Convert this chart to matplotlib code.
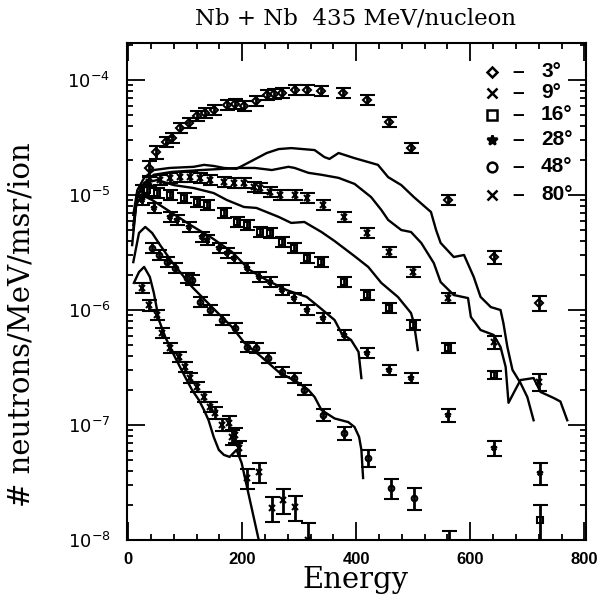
import numpy as np
import matplotlib.pyplot as plt
from matplotlib.ticker import MultipleLocator, LogLocator, NullFormatter

# measured points (energy MeV, neutrons/MeV/msr/ion, relative error)
e3 = [37, 49, 66, 77, 91, 107, 121, 135, 150, 173, 187, 204, 225, 243, 255, 269, 292, 313, 339, 377, 418, 458, 496, 561, 641, 720]
y3 = [1.72e-5, 2.36e-5, 2.89e-5, 3.13e-5, 3.83e-5, 4.23e-5, 4.87e-5, 5.17e-5, 5.48e-5, 6.06e-5, 6.18e-5, 5.94e-5, 6.57e-5,
      7.41e-5, 7.56e-5, 7.71e-5, 8.18e-5, 8.18e-5, 8.02e-5, 7.71e-5, 6.70e-5, 4.31e-5, 2.56e-5, 9.05e-6, 2.89e-6, 1.15e-6]
r3 = [0.15, 0.12, 0.1, 0.1, 0.1, 0.1, 0.1, 0.1, 0.1, 0.1, 0.1, 0.1, 0.1, 0.1, 0.1, 0.1, 0.1, 0.1, 0.1, 0.1, 0.1, 0.1, 0.1, 0.1, 0.13, 0.15]

e9 = [24, 37, 56, 73, 91, 108, 126, 143, 168, 185, 203, 220, 231, 248, 266, 292, 313, 342, 379, 418, 458, 500, 561, 641, 720]
y9 = [1.10e-5, 1.30e-5, 1.35e-5, 1.41e-5, 1.43e-5, 1.43e-5, 1.41e-5, 1.35e-5, 1.30e-5, 1.27e-5, 1.27e-5, 1.17e-5, 1.15e-5,
      1.06e-5, 1.00e-5, 1.00e-5, 9.42e-6, 8.19e-6, 6.45e-6, 4.68e-6, 3.20e-6, 2.14e-6, 1.27e-6, 5.27e-7, 2.36e-7]
r9 = [0.12, 0.1, 0.1, 0.1, 0.1, 0.1, 0.1, 0.1, 0.1, 0.1, 0.1, 0.1, 0.1, 0.1, 0.1, 0.1, 0.1, 0.1, 0.1, 0.1, 0.1, 0.1, 0.1, 0.13, 0.17]

e16 = [33, 51, 73, 98, 121, 138, 168, 190, 208, 231, 248, 269, 290, 313, 339, 379, 418, 458, 500, 561, 641, 723]
y16 = [1.10e-5, 1.04e-5, 1.00e-5, 9.42e-6, 8.70e-6, 8.19e-6, 6.98e-6, 5.83e-6, 5.49e-6, 4.77e-6, 4.68e-6, 3.90e-6, 3.46e-6,
       2.83e-6, 2.61e-6, 1.75e-6, 1.35e-6, 1.04e-6, 7.41e-7, 4.68e-7, 2.72e-7, 1.49e-8]
r16 = [0.1, 0.1, 0.1, 0.1, 0.1, 0.1, 0.1, 0.1, 0.1, 0.1, 0.1, 0.1, 0.1, 0.1, 0.1, 0.1, 0.1, 0.1, 0.1, 0.1, 0.08, 0.35]

e28 = [24, 45, 73, 86, 107, 129, 138, 159, 173, 185, 208, 229, 248, 269, 290, 313, 342, 379, 418, 458, 496, 561, 641, 723]
y28 = [9.05e-6, 7.72e-6, 6.45e-6, 6.07e-6, 5.28e-6, 4.32e-6, 4.06e-6, 3.46e-6, 3.14e-6, 2.83e-6, 2.32e-6, 1.94e-6, 1.75e-6,
       1.49e-6, 1.27e-6, 1.00e-6, 8.53e-7, 6.07e-7, 4.23e-7, 3.01e-7, 2.56e-7, 1.22e-7, 6.32e-8, 3.83e-8]
r28 = [0.1, 0.1, 0.1, 0.1, 0.1, 0.1, 0.1, 0.1, 0.1, 0.1, 0.1, 0.1, 0.1, 0.1, 0.1, 0.1, 0.1, 0.1, 0.1, 0.1, 0.1, 0.13, 0.15, 0.22]

e48 = [42, 54, 68, 82, 103, 112, 126, 143, 164, 187, 208, 225, 246, 269, 290, 309, 342, 379, 421, 461, 501, 562]
y48 = [3.46e-6, 3.01e-6, 2.61e-6, 2.32e-6, 1.90e-6, 1.82e-6, 1.17e-6, 1.00e-6, 8.18e-7, 6.98e-7, 4.77e-7, 4.68e-7, 3.83e-7,
       2.89e-7, 2.56e-7, 2.02e-7, 1.22e-7, 8.53e-8, 5.17e-8, 2.83e-8, 2.32e-8, 9.0e-9]
r48 = [0.1, 0.1, 0.1, 0.1, 0.1, 0.1, 0.1, 0.1, 0.1, 0.1, 0.1, 0.1, 0.1, 0.1, 0.1, 0.1, 0.12, 0.13, 0.17, 0.2, 0.22, 0.33]

e80 = [24, 37, 51, 59, 73, 89, 100, 108, 121, 133, 143, 152, 164, 176, 182, 187, 194, 208, 229, 252, 272, 292, 316]
y80 = [1.56e-6, 1.10e-6, 9.05e-7, 6.31e-7, 4.68e-7, 3.90e-7, 3.20e-7, 2.56e-7, 2.14e-7, 1.75e-7, 1.44e-7, 1.27e-7, 1.00e-7,
       1.04e-7, 7.87e-8, 8.19e-8, 6.32e-8, 3.46e-8, 3.90e-8, 1.90e-8, 2.23e-8, 1.94e-8, 1.0e-8]
r80 = [0.1, 0.1, 0.1, 0.1, 0.1, 0.1, 0.1, 0.1, 0.1, 0.1, 0.1, 0.12, 0.12, 0.15, 0.15, 0.15, 0.15, 0.2, 0.2, 0.25, 0.25, 0.25, 0.4]

# model curves
ca_e = [9, 16, 28, 45, 73, 115, 133, 150, 168, 190, 220, 243, 264, 286, 327, 344, 353, 369, 396, 438, 456, 479, 501,
        531, 540, 548, 571, 589, 606, 618, 636, 653, 658, 665, 674, 688, 700, 711]
ca_y = [6.71e-6, 1.10e-5, 1.41e-5, 1.65e-5, 1.72e-5, 1.76e-5, 1.83e-5, 1.79e-5, 1.72e-5, 1.69e-5, 2.02e-5, 2.32e-5, 2.51e-5,
        2.56e-5, 2.46e-5, 2.14e-5, 2.06e-5, 2.32e-5, 2.10e-5, 1.83e-5, 1.43e-5, 1.22e-5, 9.60e-6, 7.12e-6, 4.96e-6, 3.83e-6,
        2.89e-6, 3.01e-6, 1.94e-6, 1.30e-6, 1.06e-6, 1.00e-6, 7.71e-7, 4.77e-7, 3.01e-7, 2.32e-7, 1.75e-7, 1.10e-7]

cb_e = [9, 16, 28, 45, 77, 129, 194, 222, 252, 281, 292, 316, 339, 369, 397, 426, 444, 456, 479, 496, 514, 536, 548,
        571, 596, 601, 618, 641, 653, 662, 667, 676, 688, 711, 723, 746, 758, 770]
cb_y = [5.49e-6, 9.60e-6, 1.27e-5, 1.50e-5, 1.59e-5, 1.65e-5, 1.72e-5, 1.72e-5, 1.65e-5, 1.76e-5, 1.72e-5, 1.56e-5, 1.50e-5,
        1.41e-5, 1.25e-5, 9.60e-6, 7.41e-6, 6.07e-6, 4.96e-6, 4.77e-6, 3.83e-6, 2.56e-6, 1.75e-6, 1.35e-6, 1.27e-6, 8.70e-7,
        6.70e-7, 6.07e-7, 4.77e-7, 3.20e-7, 1.56e-7, 1.90e-7, 2.46e-7, 2.56e-7, 1.94e-7, 1.72e-7, 1.60e-7, 1.10e-7]

cc_e = [9, 16, 28, 51, 80, 115, 150, 173, 203, 225, 264, 286, 309, 339, 362, 397, 421, 444, 473, 496, 501, 508]
cc_y = [4.96e-6, 1.00e-5, 1.27e-5, 1.35e-5, 1.22e-5, 1.15e-5, 1.04e-5, 9.05e-6, 7.87e-6, 7.72e-6, 6.45e-6, 5.72e-6, 5.83e-6,
        4.77e-6, 3.98e-6, 2.94e-6, 2.37e-6, 1.72e-6, 1.30e-6, 9.42e-7, 7.71e-7, 4.49e-7]

cd_e = [7, 14, 24, 42, 77, 112, 147, 182, 213, 243, 278, 313, 335, 362, 374, 391, 404, 409]
cd_y = [3.67e-6, 8.19e-6, 1.00e-5, 9.05e-6, 6.98e-6, 5.38e-6, 4.23e-6, 3.20e-6, 2.23e-6, 1.82e-6, 1.49e-6, 1.30e-6, 1.06e-6,
        8.18e-7, 6.31e-7, 5.48e-7, 4.32e-7, 2.56e-7]

ce_e = [9, 19, 30, 42, 56, 77, 112, 147, 182, 204, 234, 264, 299, 316, 327, 339, 362, 386, 397, 405, 409, 412]
ce_y = [2.61e-6, 4.68e-6, 5.28e-6, 4.68e-6, 3.67e-6, 2.61e-6, 1.59e-6, 1.06e-6, 7.12e-7, 5.17e-7, 3.90e-7, 2.89e-7, 2.32e-7,
        2.02e-7, 1.75e-7, 1.35e-7, 1.14e-7, 1.06e-7, 9.60e-8, 7.87e-8, 6.07e-8, 3.46e-8]

cf_e = [10, 19, 28, 38, 45, 54, 65, 82, 100, 112, 124, 133, 141, 150, 159, 168, 178, 190, 199, 229]
cf_y = [1.72e-6, 2.14e-6, 2.37e-6, 1.94e-6, 1.41e-6, 8.18e-7, 5.83e-7, 3.90e-7, 2.61e-7, 2.02e-7, 1.65e-7, 1.35e-7, 1.10e-7,
        7.87e-8, 6.07e-8, 5.49e-8, 5.28e-8, 6.07e-8, 4.68e-8, 1.0e-8]

labels = ['3°', '9°', '16°', '28°', '48°', '80°']

fig = plt.figure(figsize=(6.04, 6.03), dpi=100)
ax = fig.add_axes([0.2103, 0.1045, 0.760, 0.8242])

for ce, cy in [(ca_e, ca_y), (cb_e, cb_y), (cc_e, cc_y), (cd_e, cd_y), (ce_e, ce_y), (cf_e, cf_y)]:
    ax.plot(ce, cy, 'k-', lw=1.7)

series = [(e3, y3, r3, 'D', 'none'), (e9, y9, r9, 'x', 'k'), (e16, y16, r16, 's', 'none'),
          (e28, y28, r28, '*', 'k'), (e48, y48, r48, 'o', 'none'), (e80, y80, r80, 'x', 'k')]
for e, y, r, m, fc in series:
    e = np.array(e)
    y = np.array(y)
    err = y * np.array(r)
    ax.errorbar(e, y, yerr=err, fmt=m, ms=4, mfc=fc, mec='k', mew=1.5, color='k',
                elinewidth=2, capsize=5.4, capthick=2)

ax.set_yscale('log')
ax.set_xlim(-2, 803)
ax.set_ylim(1e-8, 2.1e-4)
ax.xaxis.set_major_locator(MultipleLocator(200))
ax.xaxis.set_minor_locator(MultipleLocator(40))
ax.yaxis.set_major_locator(LogLocator(base=10))
ax.yaxis.set_minor_locator(LogLocator(base=10, subs=range(2, 10)))
ax.yaxis.set_minor_formatter(NullFormatter())
ax.tick_params(which='both', direction='in', top=True, right=True, width=1.3)
ax.tick_params(which='major', length=13)
ax.tick_params(which='minor', length=4.5)
ax.tick_params(axis='x', pad=9)
ax.tick_params(axis='y', pad=12, labelsize=13)
for t in ax.get_xticklabels():
    t.set_fontfamily('Liberation Sans')
    t.set_fontweight('bold')
    t.set_fontsize(12)
for s in ax.spines.values():
    s.set_linewidth(1.5)

# legend drawn by hand, as in the original
rows = [72, 93, 115, 140, 167, 195]
marks = [('D', 'none'), ('x', 'k'), ('s', 'none'), ('*', 'k'), ('o', 'none'), ('x', 'k')]
for (m, fc), lab, py in zip(marks, labels, rows):
    yf = (540 - py) / 497
    ax.plot([0.795], [yf], marker=m, ms=7 if m != 'D' else 5.5, mfc=fc, mec='k', mew=1.8,
            transform=ax.transAxes, clip_on=False)
    ax.text(0.852, yf, '–', transform=ax.transAxes, ha='center', va='center',
            family='Liberation Sans', weight='bold', size=15)
    ax.text(0.902, yf, lab, transform=ax.transAxes, ha='left', va='center',
            family='Liberation Sans', weight='bold', size=15)

fig.text(0.588, 0.970, 'Nb + Nb  435 MeV/nucleon', family='DejaVu Serif', size=16.5, ha='center', va='center')
fig.text(0.589, 0.038, 'Energy', family='DejaVu Serif', size=21, ha='center', va='center')
fig.text(0.036, 0.461, '# neutrons/MeV/msr/ion', family='DejaVu Serif', size=21, ha='center', va='center',
         rotation=90)

fig.savefig('out.png', dpi=100)
